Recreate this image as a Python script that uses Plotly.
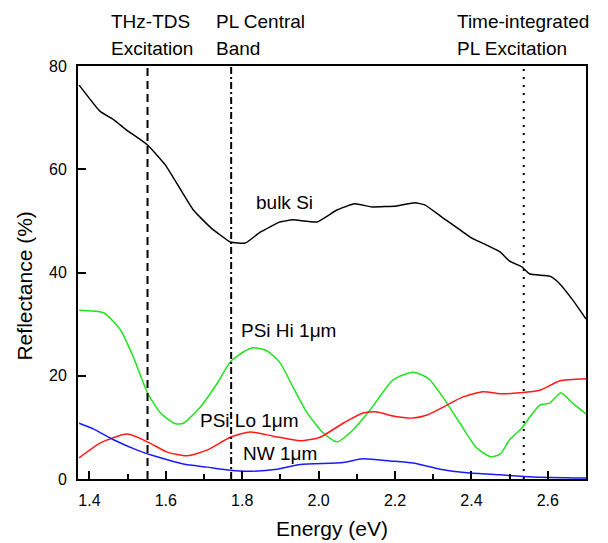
import plotly.graph_objects as go

bulk_x = [1.373, 1.428, 1.463, 1.499, 1.552, 1.599, 1.672, 1.716, 1.769, 1.808, 1.847, 1.899, 1.933, 1.996, 2.048, 2.094, 2.14, 2.205, 2.252, 2.278, 2.325, 2.36, 2.40, 2.44, 2.475, 2.50, 2.532, 2.553, 2.605, 2.626, 2.665, 2.70]
bulk_y = [76.3, 71.2, 69.6, 67.5, 64.7, 60.8, 52.1, 48.8, 45.9, 45.7, 47.8, 49.8, 50.2, 49.8, 52.1, 53.3, 52.7, 52.9, 53.5, 53.1, 50.6, 48.8, 46.7, 45.3, 44.0, 42.2, 41.1, 39.7, 39.3, 38.2, 34.7, 31.0]

hi_x = [1.373, 1.437, 1.481, 1.515, 1.552, 1.586, 1.625, 1.646, 1.690, 1.735, 1.769, 1.803, 1.829, 1.865, 1.899, 1.933, 1.97, 2.012, 2.048, 2.09, 2.135, 2.195, 2.247, 2.287, 2.325, 2.37, 2.414, 2.451, 2.475, 2.50, 2.532, 2.553, 2.579, 2.605, 2.634, 2.665, 2.70]
hi_y = [32.7, 32.2, 28.9, 23.6, 16.7, 12.8, 10.7, 10.8, 13.9, 18.6, 22.7, 24.6, 25.4, 24.8, 22.5, 17.8, 12.8, 8.9, 7.2, 9.5, 13.4, 19.2, 20.7, 19.5, 15.9, 10.8, 6.0, 4.3, 4.8, 7.6, 9.9, 12.0, 14.3, 14.7, 16.7, 14.7, 12.6]

lo_x = [1.373, 1.429, 1.499, 1.552, 1.604, 1.656, 1.708, 1.769, 1.821, 1.881, 1.952, 2.004, 2.064, 2.116, 2.153, 2.195, 2.247, 2.284, 2.336, 2.378, 2.43, 2.482, 2.527, 2.579, 2.631, 2.70]
lo_y = [4.1, 7.0, 8.7, 7.2, 5.2, 4.5, 5.6, 8.1, 9.1, 8.3, 7.4, 8.1, 10.8, 12.8, 13.0, 12.2, 11.8, 12.4, 14.3, 15.9, 16.9, 16.5, 16.7, 17.2, 19.0, 19.4]

nw_x = [1.373, 1.41, 1.463, 1.525, 1.586, 1.646, 1.708, 1.769, 1.813, 1.891, 1.952, 2.064, 2.116, 2.187, 2.247, 2.318, 2.388, 2.475, 2.56, 2.70]
nw_y = [10.8, 9.7, 7.6, 5.6, 4.1, 2.9, 2.3, 1.7, 1.5, 1.9, 2.8, 3.2, 3.9, 3.5, 3.1, 1.9, 1.2, 0.8, 0.4, 0.2]

vlines_x = [1.552, 1.771, 2.537]
vlines_dash = ["8px,5px", "7px,3px,2px,3px", "2px,6px"]

x_ticks = [1.4, 1.6, 1.8, 2.0, 2.2, 2.4, 2.6]
y_ticks = [0, 20, 40, 60, 80]

top_label_x = [1.450, 1.726, 2.358]
top_label_line1 = ["THz-TDS", "PL Central", "Time-integrated"]
top_label_line2 = ["Excitation", "Band", "PL Excitation"]

curve_label_x = [1.910, 1.920, 1.818, 1.899]
curve_label_y = [53.6, 28.8, 11.4, 5.0]
curve_label_text = ["bulk Si", "PSi Hi 1μm", "PSi Lo 1μm", "NW 1μm"]

FONT = "Liberation Sans, Arial, sans-serif"

fig = go.Figure()
fig.add_trace(go.Scatter(x=bulk_x, y=bulk_y, mode="lines", line=dict(color="black", width=1.5, shape="spline", smoothing=0.4)))
fig.add_trace(go.Scatter(x=hi_x, y=hi_y, mode="lines", line=dict(color="#22e022", width=1.5, shape="spline", smoothing=0.6)))
fig.add_trace(go.Scatter(x=lo_x, y=lo_y, mode="lines", line=dict(color="#ff1a1a", width=1.5, shape="spline", smoothing=0.6)))
fig.add_trace(go.Scatter(x=nw_x, y=nw_y, mode="lines", line=dict(color="#1a1aff", width=1.5, shape="spline", smoothing=0.6)))

for vx, vd in zip(vlines_x, vlines_dash):
    fig.add_shape(type="line", xref="x", yref="y", x0=vx, x1=vx, y0=0, y1=80,
                  line=dict(color="black", width=2, dash=vd))

for tx, t1, t2 in zip(top_label_x, top_label_line1, top_label_line2):
    fig.add_annotation(x=tx, y=1.0, xref="x", yref="paper", yshift=32, text=t1, showarrow=False,
                       xanchor="left", yanchor="bottom", font=dict(family=FONT, size=19, color="black"))
    fig.add_annotation(x=tx, y=1.0, xref="x", yref="paper", yshift=5, text=t2, showarrow=False,
                       xanchor="left", yanchor="bottom", font=dict(family=FONT, size=19, color="black"))

for cx, cy, ct in zip(curve_label_x, curve_label_y, curve_label_text):
    fig.add_annotation(x=cx, y=cy, xref="x", yref="y", text=ct, showarrow=False,
                       font=dict(family=FONT, size=19, color="black"))

# axis titles
fig.add_annotation(x=0.5, y=0, xref="paper", yref="paper", yshift=-49, text="Energy (eV)",
                   showarrow=False, yanchor="middle", font=dict(family=FONT, size=21, color="black"))
fig.add_annotation(x=0, y=0.466, xref="paper", yref="paper", xshift=-53, text="Reflectance (%)",
                   textangle=-90, showarrow=False, xanchor="center", yanchor="middle",
                   font=dict(family=FONT, size=21, color="black"))

# page body has an 8px margin: figure is 600x535 so the plot area lands where the reference's is
fig.update_layout(
    width=600, height=535,
    margin=dict(l=70, r=22, t=58, b=64, autoexpand=False),
    paper_bgcolor="white", plot_bgcolor="white",
    showlegend=False,
    font=dict(family=FONT, size=16, color="black"),
    xaxis=dict(range=[1.37, 2.70], tickvals=x_ticks, ticktext=[f"{v:.1f}" for v in x_ticks],
               ticks="inside", ticklen=8, tickwidth=1.5, tickcolor="black",
               minor=dict(dtick=0.1, tick0=1.4, ticks="inside", ticklen=5, tickwidth=1.5, tickcolor="black"),
               showline=True, linewidth=2, linecolor="black", mirror=True,
               showgrid=False, zeroline=False, automargin=False, ticklabelstandoff=6,
               tickfont=dict(family=FONT, size=16)),
    yaxis=dict(range=[0, 80], tickvals=y_ticks,
               ticks="inside", ticklen=8, tickwidth=1.5, tickcolor="black",
               showline=True, linewidth=2, linecolor="black", mirror=True,
               showgrid=False, zeroline=False, automargin=False, ticklabelstandoff=6,
               tickfont=dict(family=FONT, size=16)),
)

fig.write_html("out.html")
